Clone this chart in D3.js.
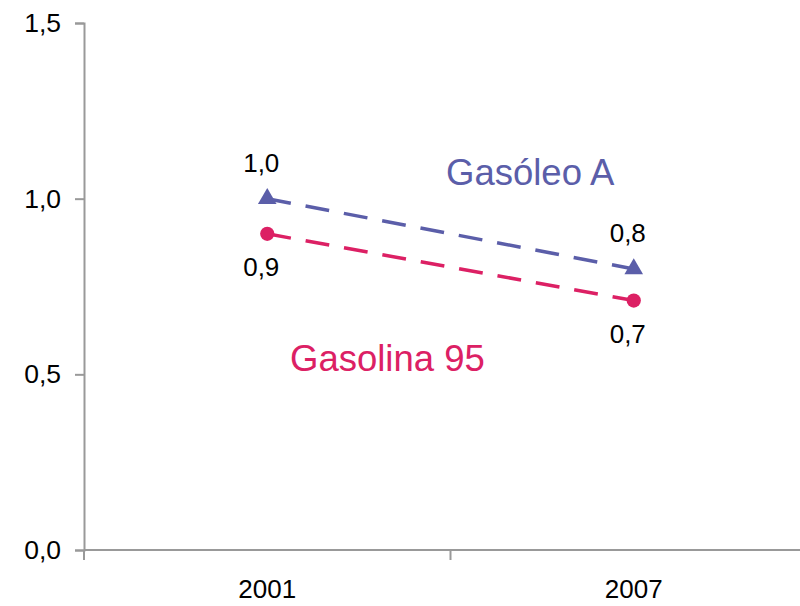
<!DOCTYPE html>
<meta charset="utf-8">
<title>Gasóleo A / Gasolina 95</title>
<style>
body { margin: 0; background: #fff; }
svg { display: block; font-family: "Liberation Sans", Arial, sans-serif; }
</style>
<svg width="800" height="606"></svg>
<script src="https://d3js.org/d3.v7.min.js"></script>
<script>

// data
var years = ["2001", "2007"];
var gasoleo = [1.0, 0.8];
var gasolina = [0.9, 0.71];
var yTicks = [0, 0.5, 1.0, 1.5];

var blue = "#5b5ea9",
    pink = "#dc2064",
    axisGrey = "#999";

var svg = d3.select("svg");

var fmt = function(v) { return d3.format(".1f")(v).replace(".", ","); };

// x is a band scale, the plot runs off the right edge like the original
var x = d3.scaleBand()
    .domain(years)
    .range([84, 817]);

var y = d3.scaleLinear()
    .domain([0, 1.5])
    .range([550, 23]);

var cx = function(d, i) { return x(years[i]) + x.bandwidth() / 2; };

// y axis
var yAxis = svg.append("g")
    .attr("transform", "translate(84,0)")
    .call(d3.axisLeft(y).tickValues(yTicks).tickSize(9).tickPadding(14).tickFormat(fmt));
yAxis.select(".domain").attr("stroke", axisGrey).attr("stroke-width", 2);
yAxis.selectAll(".tick line").attr("stroke", axisGrey).attr("stroke-width", 2);
yAxis.selectAll(".tick text").attr("font-size", 26.5).attr("fill", "#000")
    .attr("font-family", "Liberation Sans, Arial, sans-serif");

// x axis, ticks between the categories (Excel style)
var bounds = [x.range()[0]].concat(years.map(function(d) { return x(d) + x.bandwidth(); }));
svg.append("line")
    .attr("x1", x.range()[0]).attr("x2", 800)
    .attr("y1", y(0)).attr("y2", y(0))
    .attr("stroke", axisGrey).attr("stroke-width", 2);
svg.selectAll(".xtick")
  .data(bounds)
  .enter().append("line")
    .attr("class", "xtick")
    .attr("x1", function(d) { return d; }).attr("x2", function(d) { return d; })
    .attr("y1", y(0)).attr("y2", y(0) + 10)
    .attr("stroke", axisGrey).attr("stroke-width", 2);
svg.selectAll(".xlab")
  .data(years)
  .enter().append("text")
    .attr("class", "xlab")
    .attr("x", function(d) { return x(d) + x.bandwidth() / 2; })
    .attr("y", 598)
    .attr("text-anchor", "middle")
    .attr("font-size", 26)
    .text(function(d) { return d; });

var line = d3.line()
    .x(cx)
    .y(function(d) { return y(d); });

function drawSeries(vals, color, symbol, labelDy) {
  svg.append("path")
      .datum(vals)
      .attr("d", line)
      .attr("fill", "none")
      .attr("stroke", color)
      .attr("stroke-width", 3.5)
      .attr("stroke-dasharray", "24,15");
  svg.selectAll(null)
    .data(vals)
    .enter().append("path")
      .attr("d", d3.symbol().type(symbol).size(symbol === d3.symbolCircle ? 160 : 150))
      .attr("transform", function(d, i) { return "translate(" + cx(d, i) + "," + y(d) + ")"; })
      .attr("fill", color);
  svg.selectAll(null)
    .data(vals)
    .enter().append("text")
      .attr("x", function(d, i) { return cx(d, i) - 6; })
      .attr("y", function(d) { return y(d) + labelDy; })
      .attr("text-anchor", "middle")
      .attr("font-size", 26)
      .text(fmt);
}

drawSeries(gasoleo, blue, d3.symbolTriangle, -27);
drawSeries(gasolina, pink, d3.symbolCircle, 42);

// series names
svg.append("text")
    .attr("x", 446).attr("y", 185)
    .attr("font-size", 36.5)
    .attr("fill", blue)
    .text("Gasóleo A");
svg.append("text")
    .attr("x", 290).attr("y", 371)
    .attr("font-size", 36.5)
    .attr("fill", pink)
    .text("Gasolina 95");

// clipped bit of a label at the left edge
svg.append("text")
    .attr("x", -16).attr("y", 486)
    .attr("font-size", 25)
    .attr("fill", blue)
    .text("s");

</script>
